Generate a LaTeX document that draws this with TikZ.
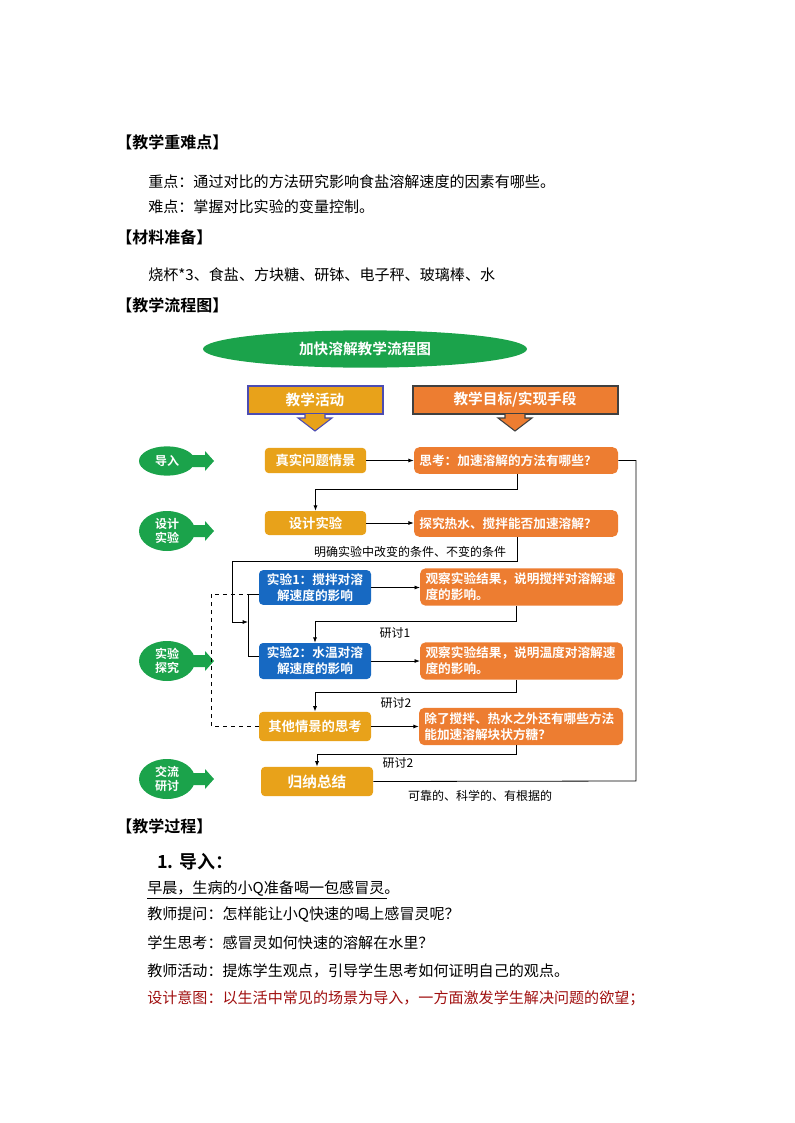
\documentclass[tikz,border=0pt]{standalone}
\usepackage{fontspec}
\setmainfont{Noto Sans CJK SC}
\newfontfamily\cjkb{Noto Sans CJK SC Bold}
\XeTeXlinebreaklocale "zh"
\XeTeXlinebreakskip=0pt plus 1pt
\usetikzlibrary{shapes.geometric,arrows.meta,positioning}
\definecolor{gold}{HTML}{E8A21A}
\definecolor{orng}{HTML}{ED7D31}
\definecolor{blu}{HTML}{1769C2}
\definecolor{grn}{HTML}{1BA34B}
\definecolor{dred}{HTML}{A01010}
\tikzset{
 gbox/.style={fill=gold,rounded corners=3pt,text=white,font=\cjkb\fontsize{10}{12}\selectfont,align=center,inner sep=0},
 obox/.style={fill=orng,rounded corners=4pt,text=white,font=\cjkb\fontsize{9.5}{12}\selectfont,align=left,inner sep=0},
 bbox/.style={fill=blu,rounded corners=3pt,text=white,font=\cjkb\fontsize{9.5}{12}\selectfont,align=center,inner sep=0},
 conn/.style={-{Latex[length=4pt,width=3pt]},line width=0.6pt},
 plain/.style={line width=0.6pt},
 lbl/.style={font=\fontsize{9}{11}\selectfont,inner sep=0},
 body/.style={anchor=west,font=\fontsize{11.3}{13}\selectfont,inner sep=0},
 head/.style={anchor=west,font=\cjkb\fontsize{12}{14}\selectfont,inner sep=0},
 side/.style={fill=grn,ellipse,text=white,font=\cjkb\fontsize{9}{10}\selectfont,align=center,inner sep=0,minimum width=42pt},
}
\begin{document}
\begin{tikzpicture}[x=0.75pt,y=-0.75pt]
\useasboundingbox (0,0) rectangle (794,1123);
% texts
\node[head] (h1) at (116,142) {【教学重难点】};
\node[body] (t1) at (148,182) {重点：通过对比的方法研究影响食盐溶解速度的因素有哪些。};
\node[body] (t2) at (148,207) {难点：掌握对比实验的变量控制。};
\node[head] (h2) at (116,237) {【材料准备】};
\node[body] (t3) at (148,275) {烧杯*3、食盐、方块糖、研钵、电子秤、玻璃棒、水};
\node[head] (h3) at (116,305) {【教学流程图】};
% title
\node[ellipse,fill=grn,minimum width=243pt,minimum height=28pt,text=white,font=\cjkb\fontsize{11}{13}\selectfont] (title) at (365,349) {加快溶解教学流程图};
% headers with arrows
\draw[fill=gold,draw=blue!40!gray,line width=0.8pt] (248,386) rectangle (383,414);
\draw[fill=gold,draw=blue!40!gray,line width=0.8pt] (305,414)--(305,418)--(298,418)--(315,431)--(332,418)--(325,418)--(325,414);
\node[text=white,font=\cjkb\fontsize{11}{13}\selectfont] (ha) at (315,400) {教学活动};
\draw[fill=orng,draw=darkgray,line width=0.8pt] (413,386) rectangle (618,414);
\draw[fill=orng,draw=darkgray,line width=0.8pt] (505,414)--(505,418)--(498,418)--(515,431)--(532,418)--(525,418)--(525,414);
\node[text=white,font=\cjkb\fontsize{11}{13}\selectfont] (hb) at (515,400) {教学目标/实现手段};
% side ovals
\foreach \n/\y/\t/\h in {s1/461/导入/22, s2/531/设计\\实验/30, s3/661/实验\\探究/30, s4/779/交流\\研讨/30}{
 \fill[grn] (193,\y-6)--(205,\y-6)--(205,\y-10)--(214,\y)--(205,\y+10)--(205,\y+6)--(193,\y+6)--cycle;
 \node[side,minimum height=\h pt] (\n) at (167,\y) {\t};
}
% boxes
\node[gbox,minimum width=76pt,minimum height=19pt] (a1) at (315.5,460.5) {真实问题情景};
\node[obox,minimum width=153pt,minimum height=20pt,text width=145pt] (b1) at (516,460.5) {思考：加速溶解的方法有哪些？};
\node[gbox,minimum width=76pt,minimum height=18pt] (a2) at (315.5,523) {设计实验};
\node[obox,minimum width=153pt,minimum height=20pt,text width=145pt] (b2) at (516,523.5) {探究热水、搅拌能否加速溶解？};
\node[bbox,minimum width=84pt,minimum height=26pt] (a3) at (315,587.5) {实验1：搅拌对溶\\解速度的影响};
\node[obox,minimum width=152pt,minimum height=28pt,text width=144pt] (b3) at (521.5,587) {观察实验结果，说明搅拌对溶解速\\度的影响。};
\node[bbox,minimum width=84pt,minimum height=27pt] (a4) at (315,661) {实验2：水温对溶\\解速度的影响};
\node[obox,minimum width=152pt,minimum height=28pt,text width=144pt] (b4) at (521.5,661) {观察实验结果，说明温度对溶解速\\度的影响。};
\node[gbox,minimum width=84pt,minimum height=22pt] (a5) at (315,726.5) {其他情景的思考};
\node[obox,minimum width=153pt,minimum height=28pt,text width=145pt] (b5) at (521,726.5) {除了搅拌、热水之外还有哪些方法\\能加速溶解块状方糖？};
\node[gbox,minimum width=84pt,minimum height=22pt,font=\cjkb\fontsize{11}{13}\selectfont] (a6) at (317,781.5) {归纳总结};
% connectors
\foreach \i in {1,...,5}{\draw[conn] (a\i.east) -- (b\i.west|-a\i.east);}
\coordinate (c1) at (517,489);
\draw[conn] (b1.south-|c1) |- (c1) -| (a2.north);
\coordinate (c2) at (517,561);
\coordinate (br1) at (248,594);
\coordinate (br2) at (248,656);
\draw[plain] (a3.west|-br1) -- (br1) -- (br2) -- (a4.west|-br2);
\coordinate (c2b) at (232,622);
\draw[conn] (b2.south-|c2) |- (c2b|-c2) -- (c2b) -- (br1|-c2b);
\coordinate (c3) at (516,621);
\draw[conn] (b3.south-|c3) |- (c3) -| (a4.north);
\coordinate (c4) at (516,692);
\draw[conn] (b4.south-|c4) |- (c4) -| (a5.north);
\coordinate (c5) at (516,754);
\draw[conn] (b5.south-|c5) |- (c5) -| (a6.north);
\coordinate (dd) at (211,594);
\draw[plain,dashed] (a5.west) -| (dd) -- (br1);
\coordinate (rr) at (636,781);
\draw[plain] (b1.east) -| (rr) -- (a6.east);
% labels
\node[lbl] (l1) at (410,552) {明确实验中改变的条件、不变的条件};
\node[lbl] (l2) at (395,633) {研讨1};
\node[lbl] (l3) at (396,703) {研讨2};
\node[lbl] (l4) at (398,763) {研讨2};
\node[lbl] (l5) at (480,796) {可靠的、科学的、有根据的};
% process
\node[head] (h4) at (116,826) {【教学过程】};
\node[anchor=west,inner sep=0,font=\cjkb\fontsize{13.5}{15}\selectfont] (s) at (157,862) {1. 导入\textmd{：}};
\node[body] (p1) at (147,889) {早晨，生病的小Q准备喝一包感冒灵。};
\draw[line width=0.6pt] (147,898) -- (387,898);
\node[body] (p2) at (147,915) {教师提问：怎样能让小Q快速的喝上感冒灵呢？};
\node[body] (p3) at (147,943) {学生思考：感冒灵如何快速的溶解在水里？};
\node[body] (p4) at (147,971) {教师活动：提炼学生观点，引导学生思考如何证明自己的观点。};
\node[body,text=dred] (p5) at (147,998) {设计意图：以生活中常见的场景为导入，一方面激发学生解决问题的欲望；};
\end{tikzpicture}
\end{document}
